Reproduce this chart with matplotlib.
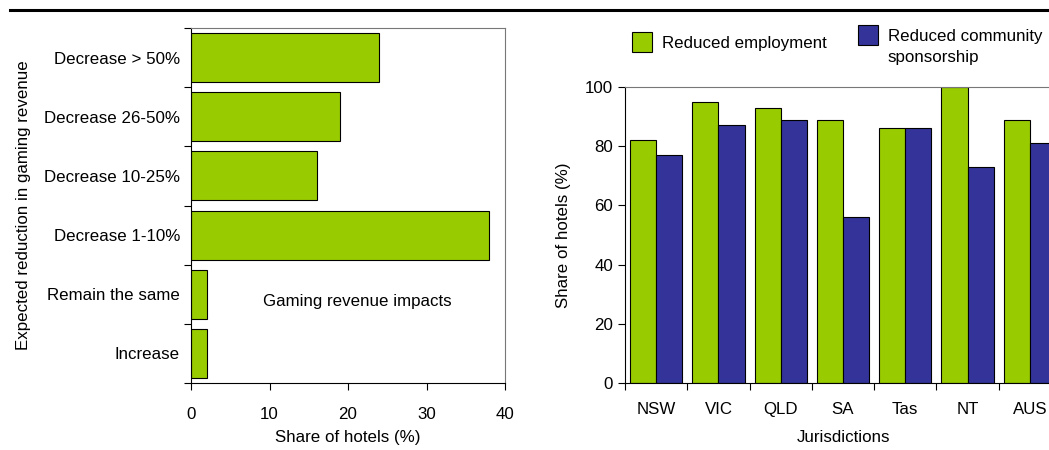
"""Gaming revenue impacts and jurisdiction responses, two-panel bar chart."""

import matplotlib
matplotlib.use("Agg")
import matplotlib.pyplot as plt
import numpy as np
from matplotlib.lines import Line2D
from matplotlib.patches import Patch

# left panel data
impact_labels = ["Decrease > 50%", "Decrease 26-50%", "Decrease 10-25%",
                 "Decrease 1-10%", "Remain the same", "Increase"]
impact_share = [24, 19, 16, 38, 2, 2]

# right panel data
jurisdictions = ["NSW", "VIC", "QLD", "SA", "Tas", "NT", "AUS"]
reduced_employment = [82, 95, 93, 89, 86, 100, 89]
reduced_sponsorship = [77, 87, 89, 56, 86, 73, 81]

GREEN = "#99CC00"
BLUE = "#333399"
FS = 12.2

plt.rcParams["font.family"] = ["Liberation Sans", "DejaVu Sans"]
plt.rcParams["font.size"] = FS

W, H = 1049, 450
fig = plt.figure(figsize=(W / 100, H / 100), dpi=100)

# thick rule across the top
fig.add_artist(Line2D([10 / W, 1.0], [1 - 10 / H, 1 - 10 / H], color="black", lw=2.2))

# ---- left: horizontal bars
ax1 = fig.add_axes([191 / W, 67 / H, 314 / W, 355 / H])
ypos = np.arange(len(impact_labels))[::-1]
ax1.barh(ypos, impact_share, height=0.83, color=GREEN, edgecolor="black", linewidth=0.8)
ax1.set_xlim(0, 40)
ax1.set_ylim(-0.5, len(impact_labels) - 0.5)
ax1.set_xticks([0, 10, 20, 30, 40])
ax1.set_yticks(np.arange(len(impact_labels) + 1) - 0.5)
ax1.set_yticklabels([])
ax1.set_yticks(ypos, labels=impact_labels, minor=True)
ax1.tick_params(axis="y", which="minor", length=0, pad=8)
ax1.tick_params(axis="y", which="major", length=5, direction="out")
ax1.tick_params(axis="x", length=5, pad=12)
for s in ["top", "right"]:
    ax1.spines[s].set_color("#777777")
    ax1.spines[s].set_linewidth(0.8)
ax1.set_xlabel("Share of hotels (%)", labelpad=6)
ax1.set_ylabel("Expected reduction in gaming revenue", labelpad=9)
ax1.text(0.53, 0.23, "Gaming revenue impacts", transform=ax1.transAxes,
         ha="center", va="center", fontsize=FS)

# ---- right: grouped vertical bars (axis runs past the right edge of the page)
ax2 = fig.add_axes([625 / W, 67 / H, 436 / W, 296 / H])
x = np.arange(len(jurisdictions))
bw = 0.42
ax2.bar(x - bw / 2, reduced_employment, width=bw, color=GREEN, edgecolor="black",
        linewidth=0.8)
ax2.bar(x + bw / 2, reduced_sponsorship, width=bw, color=BLUE, edgecolor="black",
        linewidth=0.8)
ax2.set_xlim(-0.5, len(jurisdictions) - 0.5)
ax2.set_ylim(0, 100)
ax2.set_yticks(np.arange(0, 101, 20))
ax2.set_xticks(np.arange(len(jurisdictions) + 1) - 0.5)
ax2.set_xticklabels([])
ax2.set_xticks(x, labels=jurisdictions, minor=True)
ax2.tick_params(axis="x", which="minor", length=0, pad=14)
ax2.tick_params(axis="x", which="major", length=5)
ax2.tick_params(axis="y", length=5)
ax2.spines["top"].set_color("#777777")
ax2.spines["top"].set_linewidth(0.8)
ax2.set_xlabel("Jurisdictions", labelpad=9)
ax2.set_ylabel("Share of hotels (%)", labelpad=10)

# legend: two separate boxes, the second with its handle level with the first line
leg_kw = dict(frameon=False, handlelength=1.2, handleheight=1.45, handletextpad=0.55,
              borderpad=0, borderaxespad=0, fontsize=FS)
fig.legend(handles=[Patch(facecolor=GREEN, edgecolor="black", linewidth=0.8)],
           labels=["Reduced employment"], loc="upper left",
           bbox_to_anchor=(632 / W, 1 - 32 / H), **leg_kw)
leg2 = fig.legend(handles=[Patch(facecolor=BLUE, edgecolor="black", linewidth=0.8)],
                  labels=["Reduced community"], loc="upper left",
                  bbox_to_anchor=(858 / W, 1 - 25 / H), **leg_kw)
fig.canvas.draw()
tb = leg2.get_texts()[0].get_window_extent()
fig.text(tb.x0, tb.y0 - 6, "sponsorship", fontsize=FS, va="top", ha="left",
         transform=None)

fig.savefig("out.png", dpi=100)
